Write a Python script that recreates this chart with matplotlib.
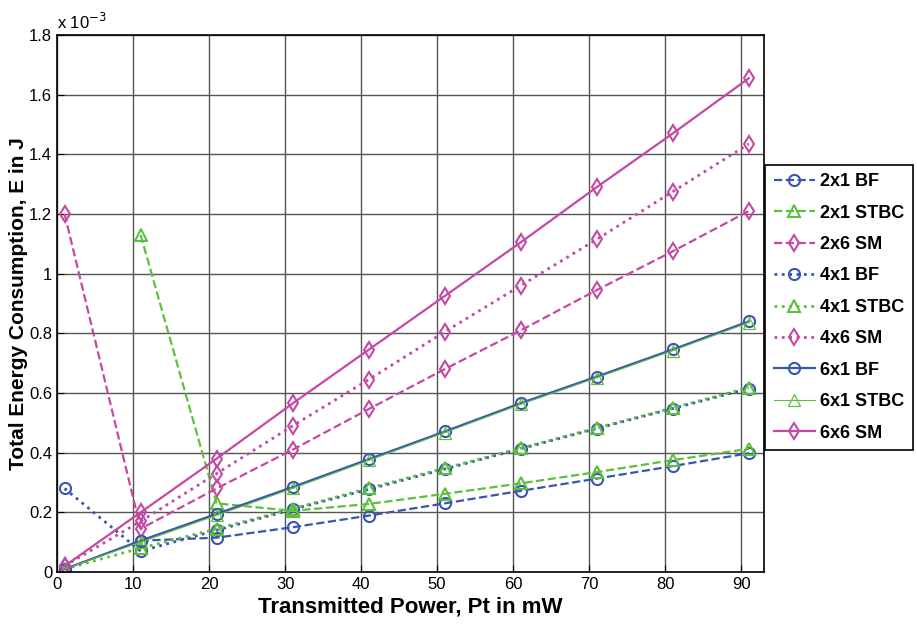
import numpy as np
import matplotlib
matplotlib.use('Agg')
import matplotlib.pyplot as plt
from matplotlib.ticker import FuncFormatter

plt.rcParams['font.family'] = ['Liberation Sans', 'DejaVu Sans']

# передаваемая мощность, мВт
power = [1, 11, 21, 31, 41, 51, 61, 71, 81, 91]

# энергия, x 1e-3 Дж
bf_2x1 = [np.nan, 0.105, 0.115, 0.15, 0.189, 0.23, 0.272, 0.313, 0.355, 0.398]
stbc_2x1 = [np.nan, 1.13, 0.23, 0.205, 0.228, 0.262, 0.297, 0.335, 0.375, 0.413]
sm_2x6 = [1.2, 0.145, 0.28, 0.41, 0.546, 0.68, 0.81, 0.945, 1.075, 1.21]
bf_4x1 = [0.28, 0.07, 0.14, 0.21, 0.277, 0.345, 0.413, 0.481, 0.548, 0.615]
stbc_4x1 = [0.01, 0.08, 0.145, 0.212, 0.281, 0.348, 0.415, 0.483, 0.55, 0.618]
sm_4x6 = [0.02, 0.17, 0.33, 0.49, 0.645, 0.805, 0.96, 1.115, 1.275, 1.435]
bf_6x1 = [0.01, 0.105, 0.195, 0.285, 0.378, 0.471, 0.566, 0.655, 0.746, 0.84]
stbc_6x1 = [0.01, 0.1, 0.19, 0.28, 0.374, 0.467, 0.562, 0.651, 0.742, 0.836]
sm_6x6 = [0.02, 0.2, 0.38, 0.565, 0.745, 0.925, 1.105, 1.29, 1.47, 1.655]

blue = '#3a55b0'
green = '#5cc03a'
pink = '#c448a4'

fig = plt.figure(figsize=(9.17, 6.24), dpi=100)
ax = fig.add_axes([57 / 917, 52 / 624, 707 / 917, 537 / 624])

mk = dict(markerfacecolor='none', markersize=8, markeredgewidth=1.5)
ax.plot(power, bf_2x1, '--o', color=blue, lw=1.6, label='2x1 BF', **mk)
ax.plot(power, stbc_2x1, '--^', color=green, lw=1.6, label='2x1 STBC', **mk)
ax.plot(power, sm_2x6, '--d', color=pink, lw=1.6, label='2x6 SM', **mk)
ax.plot(power, bf_4x1, ':o', color=blue, lw=2, label='4x1 BF', **mk)
ax.plot(power, stbc_4x1, ':^', color=green, lw=2, label='4x1 STBC', **mk)
ax.plot(power, sm_4x6, ':d', color=pink, lw=2, label='4x6 SM', **mk)
ax.plot(power, bf_6x1, '-o', color=blue, lw=1.6, label='6x1 BF', **mk)
ax.plot(power, stbc_6x1, '-^', color=green, lw=0.8, label='6x1 STBC',
        markerfacecolor='none', markersize=8, markeredgewidth=0.9)
ax.plot(power, sm_6x6, '-d', color=pink, lw=1.6, label='6x6 SM', **mk)

ax.set_xlim(0, 93)
ax.set_ylim(0, 1.8)
ax.set_xticks(range(0, 100, 10))
ax.set_yticks(np.arange(0, 1.81, 0.2))
ax.yaxis.set_major_formatter(FuncFormatter(lambda v, p: '%g' % round(v, 2)))
ax.grid(True, color='#555555', lw=1)
ax.tick_params(direction='in', labelsize=12, length=5)
for s in ax.spines.values():
    s.set_linewidth(1.2)

ax.text(0.0, 1.005, r'x 10$^{-3}$', transform=ax.transAxes, fontsize=12,
        ha='left', va='bottom')

ax.set_xlabel('Transmitted Power, Pt in mW', fontsize=16, fontweight='bold',
              labelpad=3)
ax.set_ylabel('Total Energy Consumption, E in J', fontsize=15, fontweight='bold',
              labelpad=1)

leg = ax.legend(loc='upper left', bbox_to_anchor=(1.002, 0.758), fancybox=False,
                edgecolor='black', framealpha=1, prop={'weight': 'bold', 'size': 13},
                handlelength=2.3, labelspacing=0.8, borderaxespad=0,
                handletextpad=0.3, borderpad=0.45)
leg.get_frame().set_linewidth(1.2)

fig.savefig('out.png', dpi=100)
